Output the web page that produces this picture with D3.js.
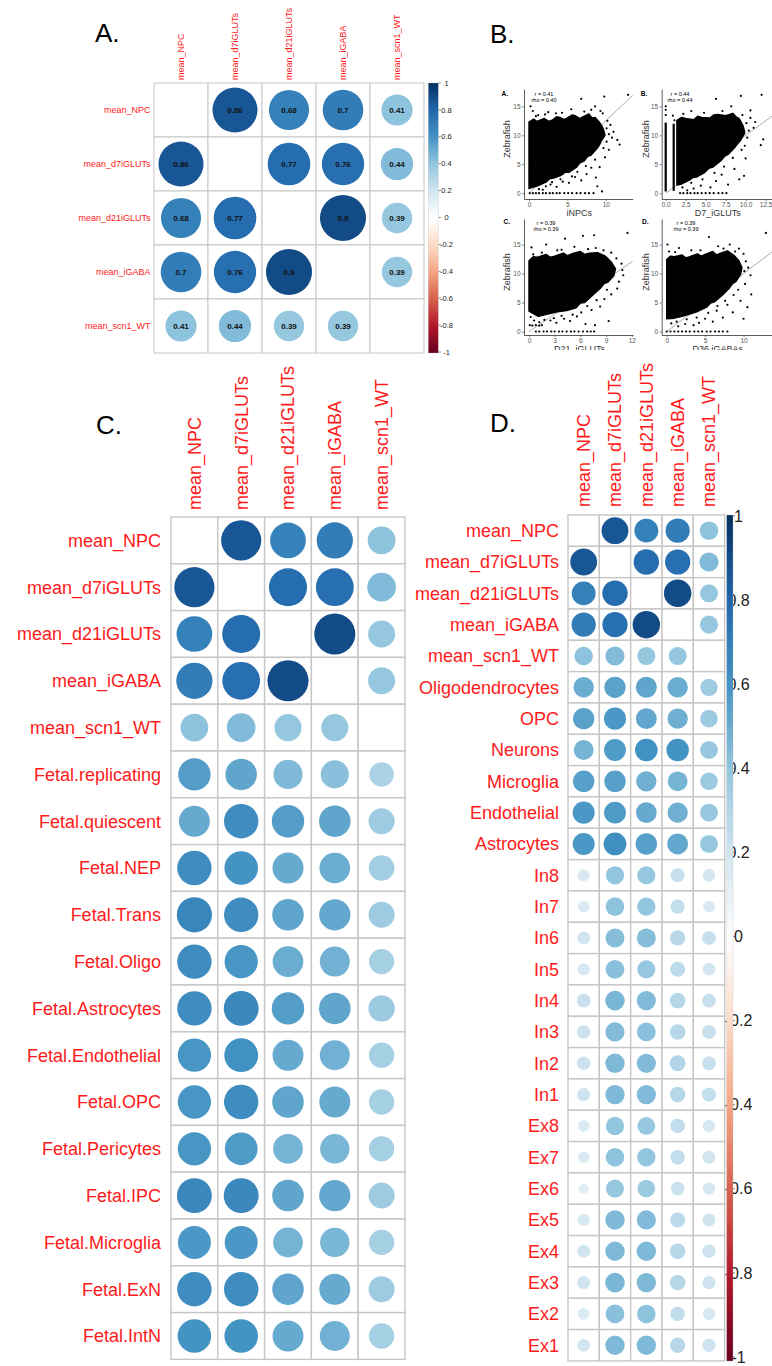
<!DOCTYPE html>
<html>
<head>
<meta charset="utf-8">
<script src="https://cdn.jsdelivr.net/npm/d3@7"></script>
<style>
  body { margin: 0; background: #fff; }
  svg { display: block; font-family: "Liberation Sans", Arial, sans-serif; }
</style>
</head>
<body>
<svg id="fig" width="772" height="1366"></svg>
<script>
// ---- correlation data ----
const meanCols = ["mean_NPC", "mean_d7iGLUTs", "mean_d21iGLUTs", "mean_iGABA", "mean_scn1_WT"];
const meanCorr = [
  [null, 0.86, 0.68, 0.70, 0.41],
  [0.86, null, 0.77, 0.76, 0.44],
  [0.68, 0.77, null, 0.90, 0.39],
  [0.70, 0.76, 0.90, null, 0.39],
  [0.41, 0.44, 0.39, 0.39, null]
];

const fetalRows = ["Fetal.replicating", "Fetal.quiescent", "Fetal.NEP", "Fetal.Trans", "Fetal.Oligo",
  "Fetal.Astrocytes", "Fetal.Endothelial", "Fetal.OPC", "Fetal.Pericytes", "Fetal.IPC",
  "Fetal.Microglia", "Fetal.ExN", "Fetal.IntN"];
const fetalCorr = [
  [0.56, 0.53, 0.45, 0.42, 0.32],
  [0.51, 0.63, 0.56, 0.53, 0.36],
  [0.63, 0.60, 0.51, 0.50, 0.35],
  [0.66, 0.63, 0.53, 0.52, 0.36],
  [0.63, 0.59, 0.50, 0.48, 0.34],
  [0.63, 0.65, 0.56, 0.53, 0.37],
  [0.59, 0.61, 0.51, 0.48, 0.34],
  [0.59, 0.63, 0.53, 0.51, 0.34],
  [0.59, 0.57, 0.47, 0.46, 0.34],
  [0.65, 0.65, 0.53, 0.52, 0.36],
  [0.58, 0.58, 0.47, 0.46, 0.34],
  [0.63, 0.63, 0.53, 0.51, 0.36],
  [0.60, 0.60, 0.51, 0.48, 0.34]
];

const adultRows = ["Oligodendrocytes", "OPC", "Neurons", "Microglia", "Endothelial", "Astrocytes",
  "In8", "In7", "In6", "In5", "In4", "In3", "In2", "In1",
  "Ex8", "Ex7", "Ex6", "Ex5", "Ex4", "Ex3", "Ex2", "Ex1"];
const adultCorr = [
  [0.50, 0.54, 0.53, 0.50, 0.36],
  [0.54, 0.58, 0.52, 0.49, 0.37],
  [0.47, 0.57, 0.61, 0.60, 0.38],
  [0.55, 0.55, 0.49, 0.47, 0.37],
  [0.58, 0.57, 0.51, 0.49, 0.38],
  [0.58, 0.62, 0.55, 0.52, 0.39],
  [0.17, 0.40, 0.39, 0.23, 0.19],
  [0.16, 0.41, 0.40, 0.24, 0.17],
  [0.20, 0.43, 0.43, 0.28, 0.23],
  [0.18, 0.42, 0.39, 0.27, 0.19],
  [0.23, 0.46, 0.44, 0.29, 0.23],
  [0.22, 0.44, 0.42, 0.29, 0.23],
  [0.22, 0.45, 0.44, 0.30, 0.23],
  [0.21, 0.45, 0.44, 0.29, 0.24],
  [0.16, 0.40, 0.38, 0.25, 0.18],
  [0.16, 0.41, 0.40, 0.25, 0.20],
  [0.13, 0.39, 0.37, 0.22, 0.18],
  [0.18, 0.45, 0.44, 0.27, 0.20],
  [0.20, 0.45, 0.45, 0.29, 0.21],
  [0.20, 0.46, 0.45, 0.29, 0.21],
  [0.16, 0.42, 0.41, 0.25, 0.18],
  [0.20, 0.45, 0.45, 0.28, 0.21]
];

const legendTicks = [1, 0.8, 0.6, 0.4, 0.2, 0, -0.2, -0.4, -0.6, -0.8, -1];
const rdbu = ["#67001F", "#B2182B", "#D6604D", "#F4A582", "#FDDBC7", "#FFFFFF",
  "#D1E5F0", "#92C5DE", "#4393C3", "#2166AC", "#053061"];

// ---- scatter data (panel B) ----
// dense region outlines, scattered points, and genes sitting at zero
const npcCloud = [[0,0.8],[0,12.3],[0.6,12.8],[1,12.4],[1.6,12.7],[2,12.9],[2.6,12.4],[3,12.6],[3.6,13.2],[4,13.1],
  [4.6,12.7],[5,13.0],[5.6,13.5],[6,13.4],[6.6,12.9],[7,13.2],[7.8,13.7],[8.2,13.0],[8.6,13.1],[9.2,12.2],
  [9.5,11.6],[9.7,11.0],[9.9,10.0],[9.4,9.0],[9.2,8.4],[8.9,7.8],[8.1,6.6],[7.6,6.3],[7.2,5.6],[6.6,5.2],
  [6.2,4.5],[5.2,3.6],[4.7,3.6],[4.2,3.1],[3.2,2.6],[2.7,2.5],[2.2,1.9],[1.2,1.3]];
const npcPoints = [[0.2,15],[0.5,14.2],[1.2,13.5],[2.5,14],[3.5,13.8],[5.5,14.5],[6.8,16.3],[8.6,15],[9.3,14.2],
  [9.6,13.8],[10.2,12.5],[10.6,11.8],[11,10.6],[11.5,9.2],[11.8,8.4],[12.9,17],[9.8,16.7],[10.4,7.5],[9.9,6.2],
  [9.2,4.5],[8.7,2.7],[7.5,3.3],[6.8,2.2],[6,2.8],[5.2,1.8],[4.4,2],[3.6,1.1],[2.8,1.5],[1.8,0.6],[8.9,1.2],
  [9.5,0.3],[8.1,4.4],[10.1,8.9],[10.8,9.6],[0.9,13.3],[2.1,13.6],[4.3,13.9],[7.2,14.1],[8.1,14.4],[10.1,11.2],
  [10.4,10.2],[9.7,7.8],[8.6,5.8],[7.4,4.7],[6.3,3.7],[5.6,2.9],[4.1,2.4],[3.0,1.9],[2.2,1.2],[1.3,0.7]];
const npcZeros = [0.1, 0.5, 0.9, 1.3, 1.8, 2.2, 2.7, 3.1, 3.6, 4.0, 4.6, 5.1, 5.6, 6.2, 6.7, 7.3, 7.8, 8.4];

const d7Cloud = [[1.4,1.4],[1.4,12.6],[2.0,13.1],[2.5,12.9],[3.5,12.7],[4.0,13.3],[4.5,13.1],[5.5,13.0],[6.0,13.5],
  [6.5,13.6],[7.5,13.4],[8.4,13.8],[8.8,13.2],[9.2,12.9],[9.7,11.6],[9.9,10.4],[9.4,9.2],[9.1,8.7],[8.7,8.0],
  [7.8,6.7],[7.4,6.4],[6.9,5.6],[5.9,4.5],[5.4,4.3],[4.9,3.6],[3.9,2.8],[3.4,2.7],[2.9,2.2],[2.0,1.6]];
const d7Strips = [[0, 0.3, 12.2], [1.0, 0.4, 12.0]];
const d7Points = [[0,13.5],[0,14.4],[0,15],[0.9,13.4],[1.1,12.6],[3.2,14.2],[6.3,16.3],[8.2,15],[9.4,16.8],[12,17],
  [10.6,14.3],[10.6,13],[11.2,12.3],[11.9,8.3],[12.2,9.3],[10.4,10.8],[10.2,9.6],[9.5,7.5],[10,6],[9.8,3],
  [9.2,2.4],[8.6,4.2],[7.8,1.5],[7,3.2],[6.3,2.1],[5.6,1],[4.4,1.3],[3.5,0.8],[2.7,0.5],[8.6,9.8],[11,11.3],
  [2.2,13.7],[4.8,13.9],[7.1,14.2],[9.6,13.5],[10.1,12.1],[9.9,8.2],[8.4,6.1],[7.3,4.6],[6.1,3.5],[4.6,2.4],
  [3.2,1.8],[2.1,1.0]];
const d7Zeros = [1.8, 2.2, 2.7, 3.1, 3.6, 4.0, 4.5, 5.0, 5.5, 6.0, 6.6, 7.1, 7.6];

const d21Cloud = [[0,3.5],[0,12.2],[0.5,12.9],[1,12.8],[2,13.3],[2.5,12.8],[3,13.0],[4,13.5],[4.5,13.1],[5,13.4],
  [6,13.8],[6.5,13.3],[7,13.5],[8,13.6],[8.9,13.0],[9.6,12.0],[10.1,10.8],[9.9,9.6],[9.2,8.5],[8.8,8.3],
  [8.3,7.4],[7.4,6.2],[6.5,5.0],[6.0,4.9],[5.5,4.1],[4.4,3.6],[3.3,3.4],[2.2,3.0],[1.1,2.6]];
const d21Points = [[0.2,2.5],[0.6,1.9],[1.2,1.6],[1.8,2.0],[2.5,1.9],[3.2,1.5],[4.1,2.2],[4.8,1.8],[5.6,2.6],
  [6.1,3.3],[6.6,1.3],[7.3,3.7],[7.7,1.1],[8.3,4.3],[9.3,1.8],[8.8,5.6],[9.6,6.4],[10.3,7.4],[10.5,8.6],
  [10.9,10.6],[11,9.7],[10.8,11.7],[10.2,12.6],[9.6,13.6],[7.8,14.4],[6.3,16.5],[4.2,16],[2,15],[0.3,14.5],
  [3.3,14],[5.3,14.6],[11.5,17],[7.6,16.6],[0.5,13.3],[0.1,1.1],[0.4,1.0],[0.8,1.1],[1.2,1.0],[1.5,1.1],
  [2.9,2.3],[3.8,2.7],[5.1,2.9],[6.8,4.4],[7.9,5.4],[9.1,7.2],[1.5,13.6],[3.8,14.1],[6.9,14.2],[8.7,14.0]];
const d21Zeros = [0.8, 1.2, 1.7, 2.1, 2.6, 3.0, 3.5, 3.9, 4.4, 4.9, 5.3, 5.8, 6.3, 6.8, 7.2, 7.6];

const d36Cloud = [[0,2.2],[0,12.4],[0.5,13.0],[1,12.9],[2,13.2],[2.5,12.7],[3,12.9],[4,13.4],[4.5,13.0],[5,13.3],
  [6,13.8],[6.5,13.2],[7,13.5],[7.9,13.9],[8.7,13.2],[9.4,12.2],[9.8,11.0],[9.6,9.8],[9.0,8.6],[8.6,8.3],
  [8.1,7.4],[7.2,6.2],[6.2,5.1],[5.7,4.9],[5.2,4.2],[4.1,3.5],[3.0,3.0],[2.0,2.6],[1.0,2.3]];
const d36Points = [[0.1,15],[0.3,13.8],[1.6,14.4],[3.2,14],[5.5,16.3],[6.7,14.7],[8.2,15],[9.4,14.3],[10,13.4],
  [12.9,17],[10.3,12.1],[10.6,11],[10.9,9.7],[11,6.4],[10.5,4.2],[10,2.2],[9.3,7.2],[9.6,5.3],[8.6,3.3],
  [7.9,4.6],[7.3,2.4],[6.5,3.6],[6,1.7],[5,2.2],[4.2,1.5],[3.5,1.1],[2.4,1.3],[1.5,0.9],[0.6,1.4],[10.2,8.2],
  [1.1,13.7],[4.4,14.0],[7.4,14.3],[8.9,13.8],[10.1,10.4],[8.7,6.3],[7.6,5.3],[6.6,4.4],[5.4,3.2],[3.9,2.4],
  [2.6,2.1],[1.3,1.7]];
const d36Zeros = [0, 0.5, 1.0, 1.5, 2.0, 2.5, 3.0, 3.6, 4.1, 4.6, 5.2, 5.7, 6.3, 6.8, 7.3, 7.9];

// reference line of each scatter, as [x0, y0, x1, y1] in data units
const refLines = [[0, 0, 13.5, 16.9], [0, 0, 13.3, 13.3], [0, 0, 12.1, 12.1], [0, 0, 13.7, 13.7]];
const scatterStats = [["r = 0.41", "rho = 0.40"], ["r = 0.44", "rho = 0.44"], ["r = 0.39", "rho = 0.39"], ["r = 0.39", "rho = 0.39"]];
const scatterTitles = ["iNPCs", "D7_iGLUTs", "D21_iGLUTs", "D36 iGABAs"];
const yTicks = [0, 5, 10, 15];

// ---- drawing ----
const svg = d3.select("#fig");
const defs = svg.append("defs");
const color = d3.scaleLinear()
  .domain(d3.range(11).map((i) => -1 + i * 0.2))
  .range(rdbu);

const corrplot = (g, rows, cols, values, o) => {
  const x = d3.scaleBand().domain(cols).range([o.x0, o.x0 + cols.length * o.cell]);
  const y = d3.scaleBand().domain(rows).range([o.y0, o.y0 + rows.length * o.cell]);
  const rad = d3.scaleSqrt().domain([0, 1]).range([0, o.rf * o.cell]);
  const cells = rows.flatMap((r, i) => cols.map((c, j) => ({ r, c, v: values[i][j] })));
  const bw = x.bandwidth();

  g.append("g").selectAll("rect").data(cells).join("rect")
    .attr("x", (d) => x(d.c)).attr("y", (d) => y(d.r))
    .attr("width", bw).attr("height", y.bandwidth())
    .attr("fill", "#fff").attr("stroke", "#c6c6c6").attr("stroke-width", o.gw);

  const filled = cells.filter((d) => d.v != null);
  g.append("g").selectAll("circle").data(filled).join("circle")
    .attr("cx", (d) => x(d.c) + bw / 2)
    .attr("cy", (d) => y(d.r) + bw / 2)
    .attr("r", (d) => rad(Math.abs(d.v)))
    .attr("fill", (d) => color(d.v));

  if (o.numbers) {
    g.append("g").selectAll("text").data(filled).join("text")
      .attr("x", (d) => x(d.c) + bw / 2)
      .attr("y", (d) => y(d.r) + bw / 2)
      .attr("dy", "0.35em").attr("text-anchor", "middle")
      .attr("font-size", o.numFs).attr("font-weight", "bold").attr("fill", "#111")
      .text((d) => String(d.v));
  }

  g.append("g").selectAll("text").data(rows).join("text")
    .attr("x", o.x0 - o.rowGap)
    .attr("y", (d) => y(d) + y.bandwidth() / 2)
    .attr("dy", "0.35em").attr("text-anchor", "end")
    .attr("font-size", o.fs).attr("fill", "#ff1a1a")
    .text((d) => d);

  g.append("g").selectAll("text").data(cols).join("text")
    .attr("transform", (d) => `translate(${x(d) + bw / 2},${o.y0 - o.colGap}) rotate(-90)`)
    .attr("dy", "0.35em").attr("text-anchor", "start")
    .attr("font-size", o.fs).attr("fill", "#ff1a1a")
    .text((d) => d);
};

const colorbar = (g, id, o) => {
  const s = d3.scaleLinear().domain([-1, 1]).range([o.s1, o.s0]);
  const grad = defs.append("linearGradient").attr("id", id)
    .attr("x1", 0).attr("y1", 1).attr("x2", 0).attr("y2", 0);
  grad.selectAll("stop").data(rdbu).join("stop")
    .attr("offset", (d, i) => i / 10).attr("stop-color", (d) => d);

  g.append("g").selectAll("line").data(legendTicks).join("line")
    .attr("x1", o.x + o.w).attr("x2", o.x + o.w + o.tick)
    .attr("y1", (d) => s(d)).attr("y2", (d) => s(d))
    .attr("stroke", "#333").attr("stroke-width", 0.6);
  g.append("g").selectAll("text").data(legendTicks).join("text")
    .attr("x", o.labelX).attr("y", (d) => s(d))
    .attr("dy", "0.35em").attr("text-anchor", "middle")
    .attr("font-size", o.fs).attr("fill", "#222")
    .text((d) => String(d));
  g.append("rect").attr("x", o.x).attr("y", o.y0)
    .attr("width", o.w).attr("height", o.y1 - o.y0)
    .attr("fill", `url(#${id})`).attr("stroke", "#bbb").attr("stroke-width", 0.3);
};

// panel letters
const letters = [["A.", 95, 42], ["B.", 490, 43], ["C.", 96, 434], ["D.", 490, 432]];
svg.append("g").selectAll("text").data(letters).join("text")
  .attr("x", (d) => d[1]).attr("y", (d) => d[2])
  .attr("font-size", 26).attr("fill", "#000").text((d) => d[0]);

// Panel A
const gA = svg.append("g");
corrplot(gA, meanCols, meanCols, meanCorr,
  { x0: 154, y0: 83, cell: 54, rf: 0.45, gw: 1, fs: 9, rowGap: 3.5, colGap: 3, numbers: true, numFs: 8 });
colorbar(gA, "gradA", { x: 428.3, w: 10, y0: 83, y1: 353, s0: 83, s1: 352, tick: 2.5, labelX: 446.5, fs: 7.5 });

// Panel C
const gC = svg.append("g");
corrplot(gC, meanCols.concat(fetalRows), meanCols, meanCorr.concat(fetalCorr),
  { x0: 171, y0: 517, cell: 46.8, rf: 0.463, gw: 1.4, fs: 18, rowGap: 10, colGap: 7 });

// Panel D
const gD = svg.append("g");
corrplot(gD, meanCols.concat(adultRows), meanCols, meanCorr.concat(adultCorr),
  { x0: 568, y0: 515, cell: 31.33, rf: 0.462, gw: 1.4, fs: 18, rowGap: 9, colGap: 8 });
colorbar(gD, "gradD", { x: 726.7, w: 6.3, y0: 515, y1: 1361, s0: 516, s1: 1357, tick: 2, labelX: 738.5, fs: 16 });

// Panel B: four scatter plots
defs.append("clipPath").attr("id", "clipB")
  .append("rect").attr("x", 480).attr("y", 0).attr("width", 292).attr("height", 350);
const gB = svg.append("g").attr("clip-path", "url(#clipB)");

const scatters = [
  { tag: "A.", cloud: npcCloud, points: npcPoints, zeros: npcZeros, strips: [],
    xr: [524, 632.7], xd: [-0.65, 13.5], yr: [199, 89], yd: [-1, 18], xt: [0, 5, 10], fmt: d3.format("d"),
    tagX: 501.5, tagY: 95.5, statX: 544, statY: 95.5, labX: 507 },
  { tag: "B.", cloud: d7Cloud, points: d7Points, zeros: d7Zeros, strips: d7Strips,
    xr: [661.7, 772], xd: [-0.5, 13.3], yr: [199, 89], yd: [-1, 18], xt: [0, 2.5, 5, 7.5, 10, 12.5], fmt: d3.format(".1f"),
    tagX: 640.7, tagY: 95.5, statX: 680, statY: 95.5, labX: 646 },
  { tag: "C.", cloud: d21Cloud, points: d21Points, zeros: d21Zeros, strips: [],
    xr: [524, 633], xd: [-0.58, 12.14], yr: [335, 219], yd: [-0.6, 19.4], xt: [0, 3, 6, 9, 12], fmt: d3.format("d"),
    tagX: 503.5, tagY: 224, statX: 546, statY: 225, labX: 507 },
  { tag: "D.", cloud: d36Cloud, points: d36Points, zeros: d36Zeros, strips: [],
    xr: [661.7, 772], xd: [-0.65, 13.7], yr: [335, 219], yd: [-0.6, 19.4], xt: [0, 5, 10], fmt: d3.format("d"),
    tagX: 642, tagY: 224, statX: 686, statY: 225, labX: 646 }
];

scatters.forEach((p, i) => {
  const g = gB.append("g");
  const x = d3.scaleLinear().domain(p.xd).range(p.xr);
  const y = d3.scaleLinear().domain(p.yd).range(p.yr);
  const ln = refLines[i];

  g.append("path")
    .attr("d", d3.line().x((d) => x(d[0])).y((d) => y(d[1]))([[ln[0], ln[1]], [ln[2], ln[3]]]))
    .attr("stroke", "#8a8a8a").attr("stroke-width", 0.7).attr("fill", "none");

  g.append("g").selectAll("line").data(p.strips).join("line")
    .attr("x1", (d) => x(d[0])).attr("x2", (d) => x(d[0]))
    .attr("y1", (d) => y(d[1])).attr("y2", (d) => y(d[2]))
    .attr("stroke", "#000").attr("stroke-width", 2.2);

  g.append("path")
    .attr("d", d3.line().x((d) => x(d[0])).y((d) => y(d[1])).curve(d3.curveLinearClosed)(p.cloud))
    .attr("fill", "#000").attr("stroke", "#000").attr("stroke-width", 1.4).attr("stroke-linejoin", "round");

  g.append("g").selectAll("circle").data(p.points).join("circle")
    .attr("cx", (d) => x(d[0])).attr("cy", (d) => y(d[1])).attr("r", 1.1).attr("fill", "#000");

  g.append("g").selectAll("circle").data(p.zeros).join("circle")
    .attr("cx", (d) => x(d)).attr("cy", y(0)).attr("r", 1.1).attr("fill", "#000");

  const styleAxis = (a) => {
    a.attr("font-family", null).attr("font-size", null);
    a.select(".domain").attr("stroke", "#333").attr("stroke-width", 0.8);
    a.selectAll(".tick line").attr("stroke", "#333").attr("stroke-width", 0.6);
    a.selectAll(".tick text").attr("font-size", 6.5).attr("fill", "#555");
  };

  g.append("g").attr("transform", `translate(0,${p.yr[0]})`)
    .call(d3.axisBottom(x).tickValues(p.xt).tickFormat(p.fmt).tickSize(2).tickSizeOuter(0).tickPadding(1.5))
    .call(styleAxis);
  g.append("g").attr("transform", `translate(${p.xr[0]},0)`)
    .call(d3.axisLeft(y).tickValues(yTicks).tickSize(2).tickSizeOuter(0).tickPadding(1.5))
    .call(styleAxis);

  g.append("text").attr("x", (p.xr[0] + p.xr[1]) / 2 + 1).attr("y", p.yr[0] + 17)
    .attr("text-anchor", "middle").attr("font-size", 9).attr("fill", "#333")
    .text(scatterTitles[i]);
  g.append("text")
    .attr("transform", `translate(${p.labX},${(p.yr[0] + p.yr[1]) / 2 - 5}) rotate(-90)`)
    .attr("dy", "0.35em").attr("text-anchor", "middle").attr("font-size", 9).attr("fill", "#333")
    .text("Zebrafish");
  g.append("text").attr("x", p.tagX).attr("y", p.tagY)
    .attr("font-size", 6.5).attr("font-weight", "bold").attr("fill", "#000").text(p.tag);
  g.append("g").selectAll("text").data(scatterStats[i]).join("text")
    .attr("x", p.statX).attr("y", (d, k) => p.statY + k * 6)
    .attr("text-anchor", "middle").attr("font-size", 5.5).attr("fill", "#000")
    .text((d) => d);
});
</script>
</body>
</html>
